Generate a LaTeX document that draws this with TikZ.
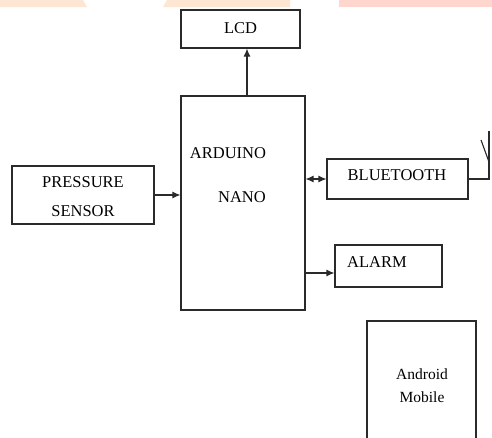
\documentclass[tikz,border=0pt]{standalone}
\usepackage{fontspec}
\setmainfont{Liberation Serif}
\usetikzlibrary{arrows.meta}
\definecolor{bandA}{HTML}{FEE6D4}
\definecolor{bandB}{HTML}{FDE6D2}
\definecolor{bandC}{HTML}{FFD6CD}
\definecolor{linecol}{HTML}{2A2A2A}
\begin{document}
\begin{tikzpicture}[x=1pt,y=-1pt,
  blk/.style={draw=linecol,line width=1.1pt,minimum width=#1,inner sep=0pt},
  lbl/.style={font=\fontsize{16.5}{18}\selectfont,inner sep=0pt,text=black},
  conn/.style={draw=linecol,line width=1.1pt,-{Latex[length=8pt,width=7pt]}},
  dconn/.style={draw=linecol,line width=1.1pt,{Latex[length=8pt,width=7pt]}-{Latex[length=8pt,width=7pt]}}]
\useasboundingbox (0,0) rectangle (492,437);
\fill[white] (0,0) rectangle (492,437);
% top watermark bands
\fill[bandA] (0,0) -- (83,0) -- (87,7) -- (0,7) -- cycle;
\fill[bandB] (167,0) -- (290,0) -- (290,7) -- (163,7) -- cycle;
\fill[bandC] (339,0) -- (492,0) -- (492,7) -- (339,7) -- cycle;
% blocks
\node[blk=119pt,minimum height=38pt] (lcd) at (240.5,29) {};
\node[blk=124pt,minimum height=214pt] (ard) at (243,203) {};
\node[blk=142pt,minimum height=58pt] (ps) at (83,195) {};
\node[blk=141pt,minimum height=40pt] (bt) at (397.5,179) {};
\node[blk=107pt,minimum height=42pt] (alarm) at (388.5,266) {};
\node[blk=109pt,minimum height=124pt] (mob) at (421.5,383) {};
% labels
\node[lbl] (tlcd) at (240.5,28) {LCD};
\node[lbl] (tard1) at (228,153) {ARDUINO};
\node[lbl] (tard2) at (242,197) {NANO};
\node[lbl] (tps1) at (83,182) {PRESSURE};
\node[lbl] (tps2) at (83,211) {SENSOR};
\node[lbl] (tbt) at (397,175) {BLUETOOTH};
\node[lbl] (tal) at (377,262) {ALARM};
\node[lbl,font=\fontsize{15.5}{17}\selectfont] (tmob1) at (422,374) {Android};
\node[lbl,font=\fontsize{15.5}{17}\selectfont] (tmob2) at (422,397) {Mobile};
% connectors
\coordinate (lcdx) at (247,0);
\coordinate (alarmy) at (0,273);
\coordinate (antbase) at (489,179);
\coordinate (anttop) at (489,131);
\coordinate (antdiag) at (481,140);
\coordinate (antjoin) at (489,162);
\draw[conn] (ard.north -| lcdx) -- (lcd.south -| lcdx);
\draw[conn] (ps.east) -- (ps.east -| ard.west);
\draw[dconn] (bt.west -| ard.east) -- (bt.west);
\draw[conn] (ard.east |- alarmy) -- (alarm.west |- alarmy);
\draw[linecol,line width=1.1pt] (bt.east) -- (antbase) -- (anttop);
\draw[linecol,line width=1.1pt] (antdiag) -- (antjoin);
\end{tikzpicture}
\end{document}
